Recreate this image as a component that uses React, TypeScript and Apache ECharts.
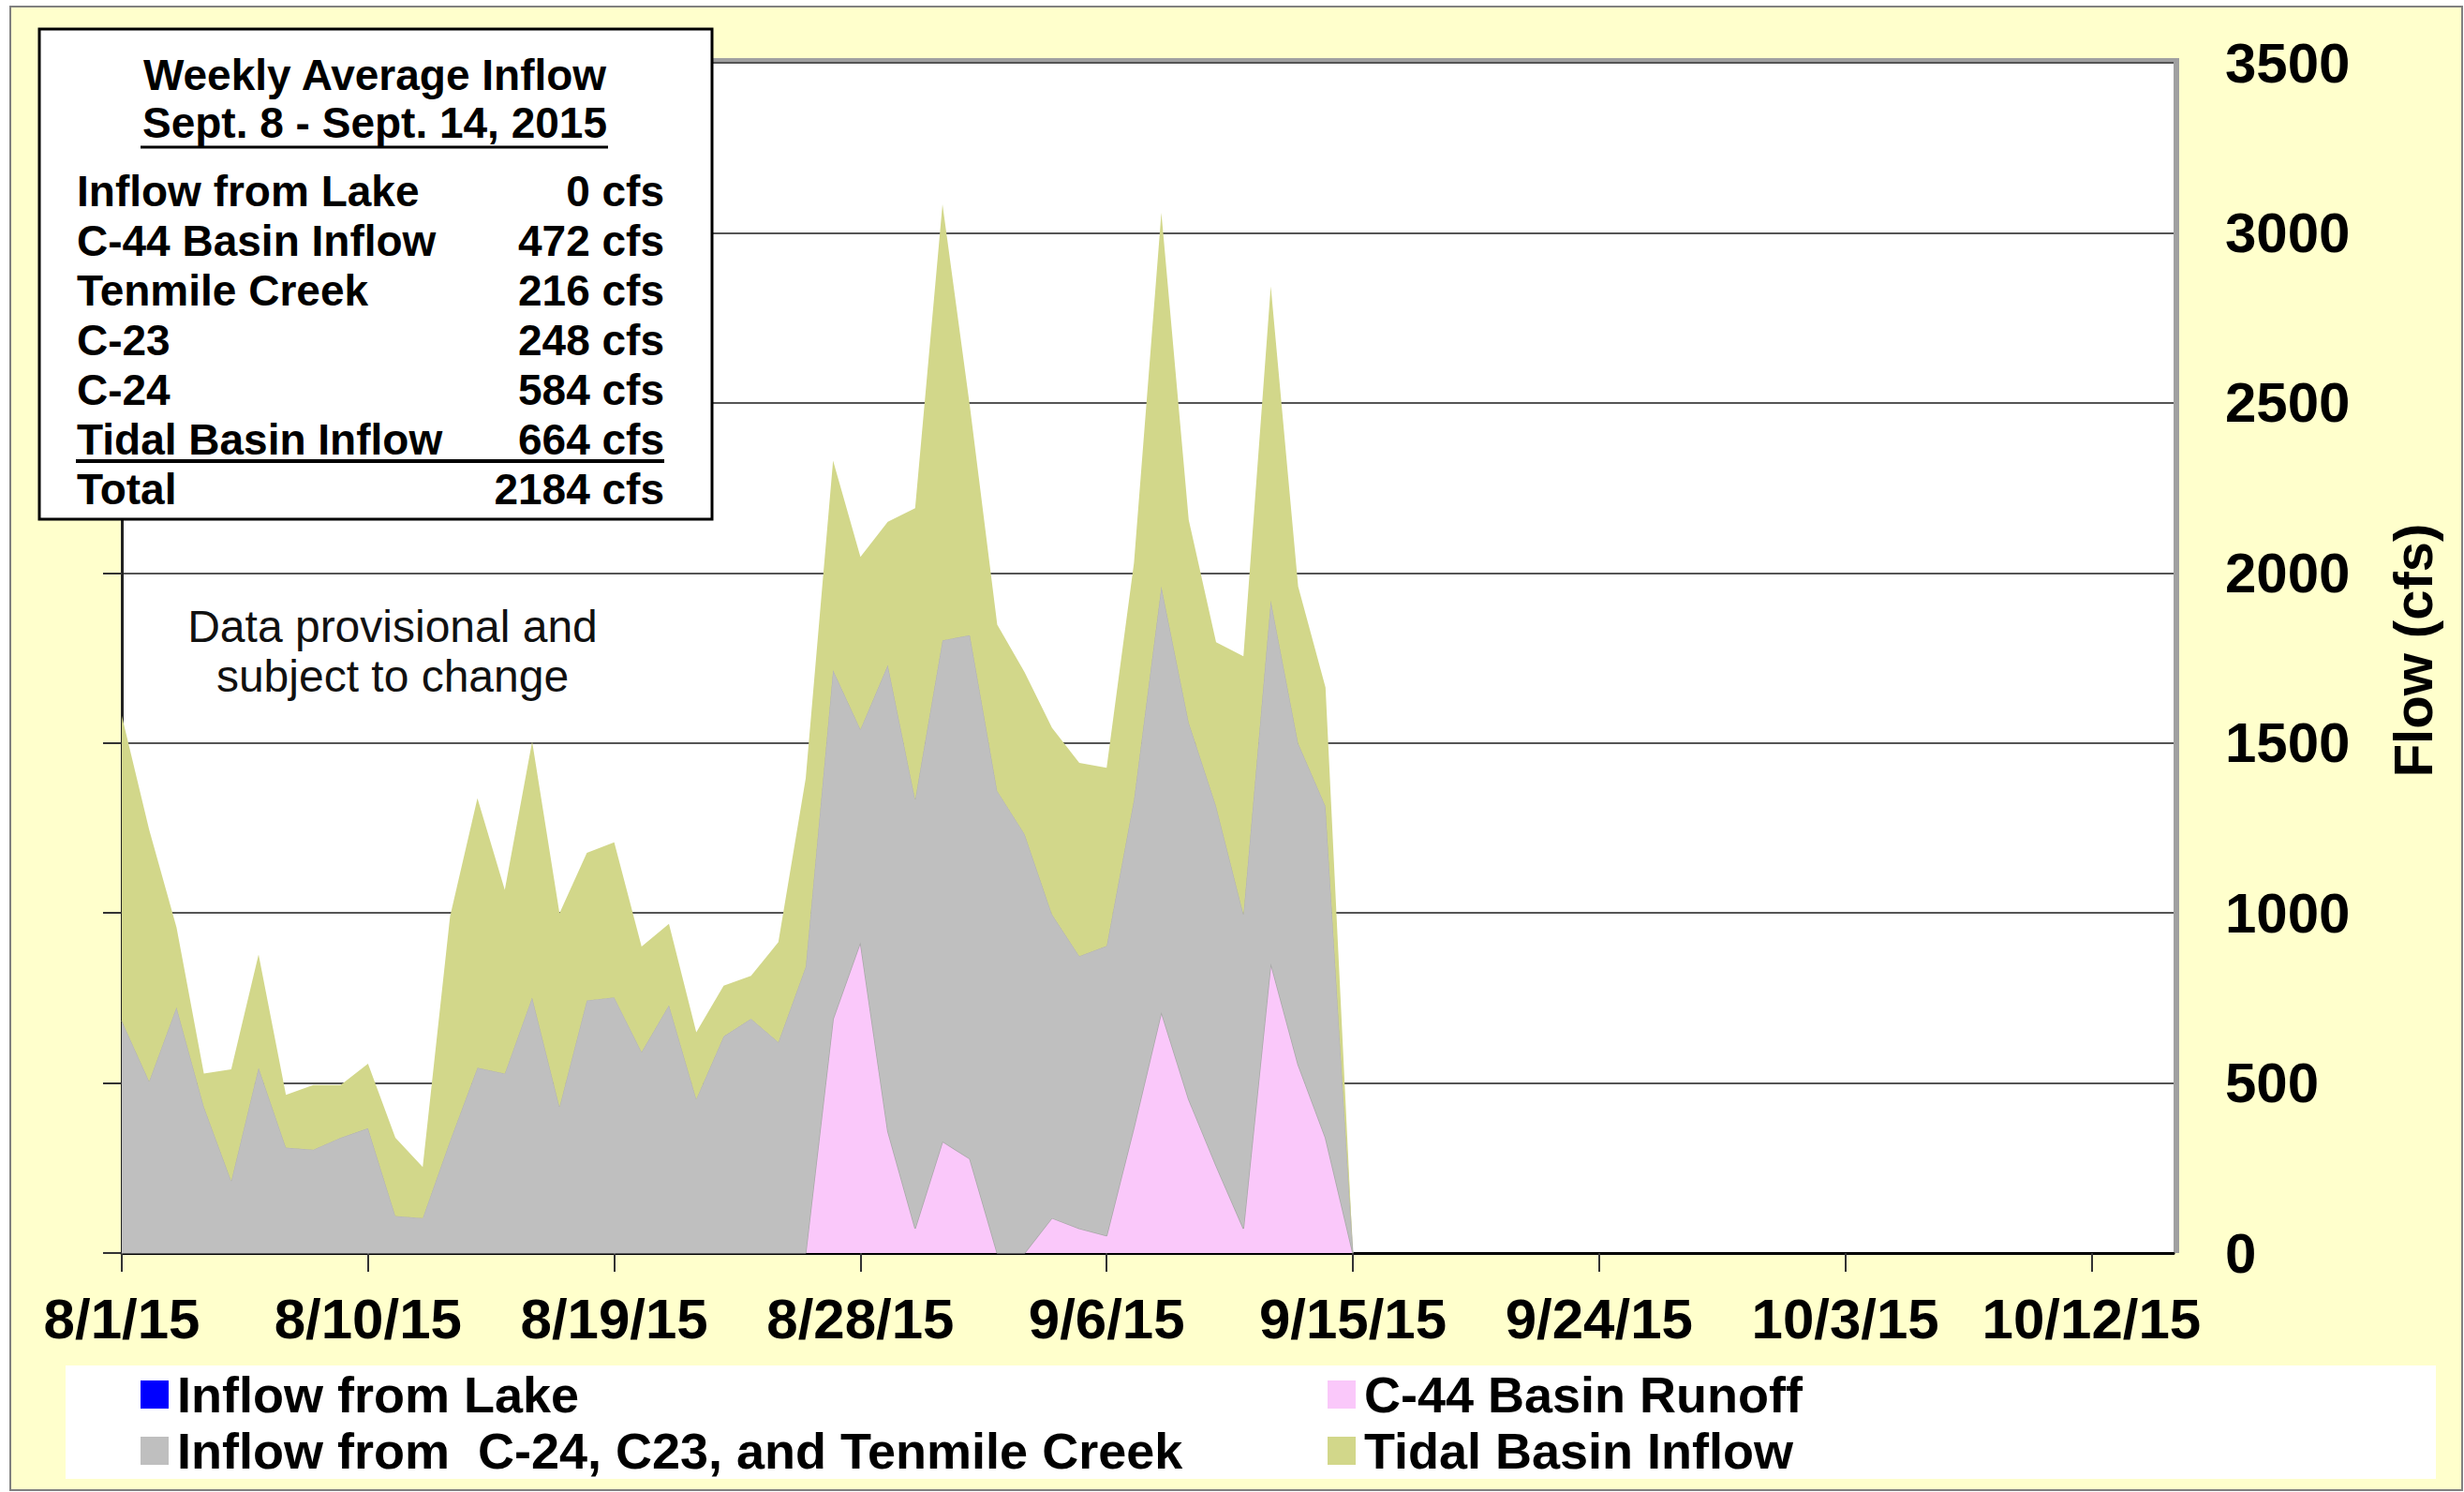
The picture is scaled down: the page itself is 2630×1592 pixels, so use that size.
import React, { useEffect, useRef } from "react";
import * as echarts from "echarts";

// ---- Data (daily values, day 0 = 8/1/15) ----
const xTickLabels = ["8/1/15", "8/10/15", "8/19/15", "8/28/15", "9/6/15", "9/15/15", "9/24/15", "10/3/15", "10/12/15"];
const tickStepDays = 9;
const lastDay = 75;

const lakeInflow = [
  0, 0, 0, 0, 0, 0, 0, 0, 0, 0,
  0, 0, 0, 0, 0, 0, 0, 0, 0, 0,
  0, 0, 0, 0, 0, 0, 0, 0, 0, 0,
  0, 0, 0, 0, 0, 0, 0, 0, 0, 0,
  0, 0, 0, 0, 0, 0,
];
const c44Runoff = [
  0, 0, 0, 0, 0, 0, 0, 0, 0, 0,
  0, 0, 0, 0, 0, 0, 0, 0, 0, 0,
  0, 0, 0, 0, 0, 0, 688, 914, 359, 72,
  328, 277, 0, 0, 103, 72, 51, 370, 708, 452,
  257, 72, 852, 554, 339, 0,
];
const otherInflow = [
  683, 505, 723, 430, 212, 545, 310, 304, 339, 367,
  109, 103, 330, 545, 528, 752, 430, 743, 752, 591,
  729, 453, 637, 689, 620, 842, 1026, 626, 1370, 1262,
  1474, 1540, 1359, 1232, 893, 801, 852, 964, 1252, 1108,
  1057, 924, 1067, 945, 975, 0,
];
const tidalInflow = [
  897, 740, 235, 98, 328, 333, 155, 190, 155, 190,
  230, 150, 660, 792, 540, 752, 569, 434, 456, 310,
  239, 196, 149, 126, 294, 554, 616, 507, 421, 856,
  1282, 673, 489, 476, 549, 568, 524, 696, 1099, 596,
  482, 759, 924, 461, 349, 0,
];

const seriesNames = [
  "Inflow from Lake",
  "C-44 Basin Runoff",
  "Inflow from  C-24, C23, and Tenmile Creek",
  "Tidal Basin Inflow",
];

const boxTitle = "Weekly Average Inflow";
const boxSubtitle = "Sept. 8 - Sept. 14, 2015";
const boxLabels = ["Inflow from Lake", "C-44 Basin Inflow", "Tenmile Creek", "C-23", "C-24", "Tidal Basin Inflow", "Total"];
const boxValues = ["0 cfs", "472 cfs", "216 cfs", "248 cfs", "584 cfs", "664 cfs", "2184 cfs"];

const noteLines = ["Data provisional and", "subject to change"];
const yAxisTitle = "Flow (cfs)";

const FONT = "'Liberation Sans', Arial, sans-serif";

export default function App() {
  const ref = useRef<HTMLDivElement>(null);

  useEffect(() => {
    if (!ref.current) return;
    const chart = echarts.init(ref.current, null, { renderer: "svg" });

    // one category per day, 8/1/15 .. 10/15/15
    const dayCategories = Array.from({ length: lastDay + 1 }, (_, i) => String(i));
    const isTick = (idx: number) => idx % tickStepDays === 0;

    const colors = ["#0000FF", "#FAC8FA", "#BFBFBF", "#D2D78A"];
    const lineColors = ["#0000FF", "#A8A8A8", "#B0B0B0", "#D2D78A"];
    const lineWidths = [0, 1.5, 1, 0];
    const dataSets = [lakeInflow, c44Runoff, otherInflow, tidalInflow];

    const series = dataSets.map((d, i) => ({
      name: seriesNames[i],
      type: "line",
      stack: "total",
      data: d,
      symbol: "none",
      showSymbol: false,
      lineStyle: { color: lineColors[i], width: lineWidths[i] },
      areaStyle: { color: colors[i], opacity: 1 },
      itemStyle: { color: colors[i] },
      z: 2 + i,
    }));

    const legendPos = [
      { left: 150, top: 1461 },
      { left: 1417, top: 1461 },
      { left: 150, top: 1521 },
      { left: 1417, top: 1521 },
    ];
    const legends = seriesNames.map((n, i) => ({
      data: [n],
      left: legendPos[i].left,
      top: legendPos[i].top,
      orient: "horizontal",
      padding: 0,
      itemGap: 0,
      itemWidth: 30,
      itemHeight: 30,
      icon: "rect",
      selectedMode: false,
      textStyle: {
        fontFamily: FONT,
        fontSize: 54,
        fontWeight: "bold",
        color: "#000",
        lineHeight: 54,
        padding: [0, 0, 0, 4],
      },
    }));

    const TOPZ = 200;
    const rowY0 = 204;
    const rowStep = 53;
    const boxFont = { fontFamily: FONT, fontSize: 46, fontWeight: "bold", fill: "#000", verticalAlign: "middle" };
    const boxChildren: any[] = [
      {
        type: "rect",
        z: TOPZ,
        shape: { x: 42, y: 31, width: 718, height: 523 },
        style: { fill: "#FFFFFF", stroke: "#000000", lineWidth: 3 },
      },
      { type: "text", z: TOPZ + 1, x: 400, y: 80, style: { ...boxFont, text: boxTitle, align: "center" } },
      { type: "text", z: TOPZ + 1, x: 400, y: 131, style: { ...boxFont, text: boxSubtitle, align: "center" } },
      { type: "line", z: TOPZ + 1, shape: { x1: 150, y1: 157, x2: 649, y2: 157 }, style: { stroke: "#000", lineWidth: 3 } },
      { type: "line", z: TOPZ + 1, shape: { x1: 81, y1: 492, x2: 709, y2: 492 }, style: { stroke: "#000", lineWidth: 4 } },
    ];
    boxLabels.forEach((lab, i) => {
      boxChildren.push({ type: "text", z: TOPZ + 1, x: 82, y: rowY0 + i * rowStep, style: { ...boxFont, text: lab, align: "left" } });
      boxChildren.push({ type: "text", z: TOPZ + 1, x: 709, y: rowY0 + i * rowStep, style: { ...boxFont, text: boxValues[i], align: "right" } });
    });

    const option: any = {
      animation: false,
      backgroundColor: "#FFFFFF",
      grid: {
        left: 130,
        right: 310,
        top: 67,
        bottom: 255,
        show: true,
        backgroundColor: "#FFFFFF",
        borderWidth: 0,
      },
      legend: legends,
      xAxis: {
        type: "category",
        data: dayCategories,
        boundaryGap: false,
        axisLine: { show: true, onZero: false, lineStyle: { color: "#000", width: 3 } },
        axisTick: { show: true, length: 20, interval: (idx: number) => isTick(idx), lineStyle: { color: "#333", width: 2 } },
        axisLabel: {
          interval: (idx: number) => isTick(idx),
          formatter: (_v: string, idx: number) => xTickLabels[idx / tickStepDays] ?? "",
          fontFamily: FONT,
          fontSize: 60,
          fontWeight: "bold",
          color: "#000",
          margin: 40,
          hideOverlap: false,
        },
        splitLine: { show: false },
      },
      yAxis: [
        {
          type: "value",
          position: "left",
          min: 0,
          max: 3500,
          interval: 500,
          axisLine: { show: true, onZero: false, lineStyle: { color: "#222", width: 3 } },
          axisTick: { show: true, length: 20, lineStyle: { color: "#333", width: 2 } },
          axisLabel: { show: false },
          splitLine: { show: true, lineStyle: { color: "#555", width: 2 } },
        },
        {
          type: "value",
          position: "right",
          min: 0,
          max: 3500,
          interval: 500,
          axisLine: { show: false, onZero: false },
          axisTick: { show: false },
          splitLine: { show: false },
          axisLabel: {
            align: "left",
            margin: 55,
            formatter: (v: number) => String(v),
            fontFamily: FONT,
            fontSize: 60,
            fontWeight: "bold",
            color: "#000",
          },
        },
      ],
      series,
      graphic: [
        {
          type: "rect",
          z: -100,
          silent: true,
          shape: { x: 11, y: 7, width: 2617, height: 1583 },
          style: { fill: "#FFFFCC", stroke: "#808080", lineWidth: 2 },
        },
        {
          type: "rect",
          z: -50,
          silent: true,
          shape: { x: 134, y: 62, width: 2192, height: 1275 },
          style: { fill: "#A0A0A0" },
        },
        {
          type: "rect",
          z: -40,
          silent: true,
          shape: { x: 70, y: 1457, width: 2530, height: 121 },
          style: { fill: "#FFFFFF" },
        },
        { type: "group", z: TOPZ, children: boxChildren },
        {
          type: "text",
          z: TOPZ,
          x: 419,
          y: 668,
          style: { text: noteLines[0], fontFamily: FONT, fontSize: 48, fill: "#111", align: "center", verticalAlign: "middle" },
        },
        {
          type: "text",
          z: TOPZ,
          x: 419,
          y: 721,
          style: { text: noteLines[1], fontFamily: FONT, fontSize: 48, fill: "#111", align: "center", verticalAlign: "middle" },
        },
        {
          type: "text",
          z: TOPZ,
          x: 2575,
          y: 694,
          rotation: Math.PI / 2,
          style: { text: yAxisTitle, fontFamily: FONT, fontSize: 58, fontWeight: "bold", fill: "#000", align: "center", verticalAlign: "middle" },
        },
      ],
    };

    chart.setOption(option);
    return () => chart.dispose();
  }, []);

  return (
    <div
      ref={ref}
      style={{ position: "absolute", left: 0, top: 0, width: 2630, height: 1592 }}
    />
  );
}
